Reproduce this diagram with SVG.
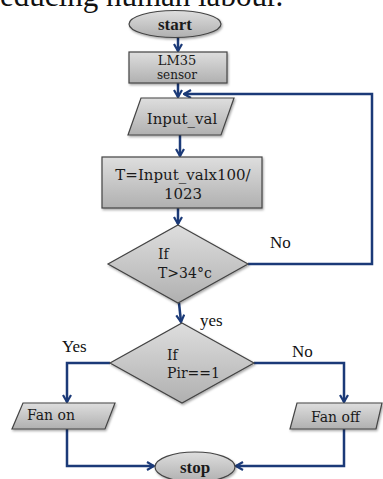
<svg xmlns="http://www.w3.org/2000/svg" width="383" height="479" viewBox="0 0 383 479">
<defs>
<linearGradient id="g" x1="0" y1="0" x2="0" y2="1">
<stop offset="0" stop-color="#dedede"/>
<stop offset="1" stop-color="#b0b0b0"/>
</linearGradient>
<filter id="sh" x="-10%" y="-10%" width="130%" height="140%">
<feDropShadow dx="1" dy="1.5" stdDeviation="1.2" flood-color="#000" flood-opacity="0.35"/>
</filter>
<marker id="ah" viewBox="0 0 10 10" refX="8.5" refY="5" markerWidth="4" markerHeight="4" orient="auto" markerUnits="strokeWidth">
<path d="M1.5,1 L8.5,5 L1.5,9" fill="none" stroke="#1b3a78" stroke-width="2.2"/>
</marker>
</defs>
<style>
.s{fill:url(#g);stroke:#444;stroke-width:1.2;filter:url(#sh)}
.t{font-family:"DejaVu Serif","Liberation Serif",serif;font-size:14px;fill:#1a1a1a}
.b{font-family:"Liberation Serif",serif;font-weight:bold;font-size:17px;fill:#1a1a1a}
.l{font-family:"Liberation Serif",serif;font-size:17px;fill:#111}
.c{fill:none;stroke:#1b3a78;stroke-width:2.5;marker-end:url(#ah)}
</style>
<text x="0" y="6" style="font-family:'Liberation Serif',serif;font-size:31px;fill:#111">educing human labour.</text>
<g id="connectors">
<path class="c" d="M178,37 L178,51"/>
<path class="c" d="M178,83 L178,97"/>
<path class="c" d="M248,264 L372,264 L372,94 L184,94"/>
<path class="c" d="M180,135 L180,156"/>
<path class="c" d="M178,208 L178,224"/>
<path class="c" d="M179,303 L181,322"/>
<path class="c" d="M110,363 L67,363 L67,402"/>
<path class="c" d="M254,363 L344,363 L344,402"/>
<path class="c" d="M67,429 L67,466 L154,466"/>
<path class="c" d="M344,429 L344,466 L236,466"/>
</g>
<g id="start">
<ellipse class="s" cx="175" cy="24" rx="46" ry="13.5"/>
<text class="b" x="175" y="29.5" text-anchor="middle">start</text>
</g>
<g id="lm35">
<rect class="s" x="129" y="52" width="98" height="31"/>
<text class="t" x="177" y="65" text-anchor="middle" style="font-size:13px">LM35</text>
<text class="t" x="177" y="79" text-anchor="middle" style="font-size:12px">sensor</text>
</g>
<g id="input">
<polygon class="s" points="141,98 234,98 221,135 128,135"/>
<text class="t" x="182" y="124" text-anchor="middle" style="font-size:15px">Input_val</text>
</g>
<g id="calc">
<rect class="s" x="102" y="157" width="160" height="51"/>
<text class="t" x="183" y="180" text-anchor="middle" style="font-size:15px">T=Input_valx100/</text>
<text class="t" x="183" y="199" text-anchor="middle" style="font-size:15px">1023</text>
</g>
<g id="cond1">
<polygon class="s" points="178,225 248,264 178,303 108,264"/>
<text class="t" x="158" y="259">If</text>
<text class="t" x="158" y="278">T&gt;34°c</text>
</g>
<g id="cond2">
<polygon class="s" points="182,323 254,363 182,403 110,363"/>
<text class="t" x="167" y="360">If</text>
<text class="t" x="167" y="378">Pir==1</text>
</g>
<g id="fanon">
<polygon class="s" points="23,403 115,403 105,429 12,429"/>
<text class="t" x="27" y="420">Fan on</text>
</g>
<g id="fanoff">
<polygon class="s" points="297,403 382,403 376,429 290,429"/>
<text class="t" x="311" y="422">Fan off</text>
</g>
<g id="stop">
<ellipse class="s" cx="195" cy="467" rx="40" ry="15"/>
<text class="b" x="195" y="473" text-anchor="middle">stop</text>
</g>
<g id="labels">
<text class="l" x="270" y="248">No</text>
<text class="l" x="200" y="326">yes</text>
<text class="l" x="62" y="352">Yes</text>
<text class="l" x="292" y="357">No</text>
</g>
</svg>
